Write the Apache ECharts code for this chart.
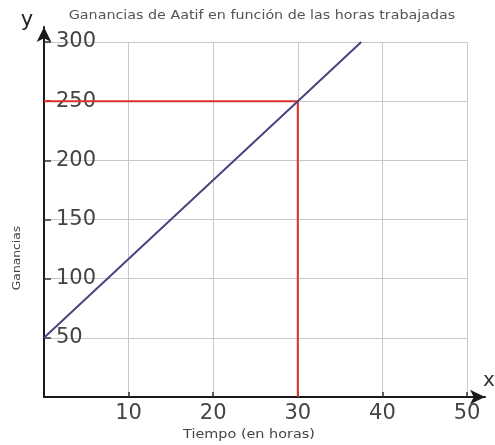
<!DOCTYPE html>
<html>
<head>
<meta charset="utf-8">
<script src="https://cdn.jsdelivr.net/npm/echarts@6/dist/echarts.min.js"></script>
<style>
  html, body { margin: 0; padding: 0; background: #fff; }
  #chart { width: 495px; height: 445px; }
</style>
</head>
<body>
<div id="chart"></div>
<script>
// Earnings line: points (hours, earnings)
const earnings = [[0, 50], [30, 250], [37.5, 300]];
// Guide lines marking 30 hours -> 250
const guide = [[0, 250], [30, 250], [30, 0]];

const xTicks = { min: 0, max: 50, step: 10 };
const yTicks = { min: 0, max: 300, step: 50 };

const titleText = 'Ganancias de Aatif en función de las horas trabajadas';
const xName = 'Tiempo (en horas)';
const yName = 'Ganancias';

const font = 'DejaVu Sans';
const chart = echarts.init(document.getElementById('chart'));

chart.setOption({
  animation: false,
  grid: [
    { left: 44, right: 28, top: 42, bottom: 48 },
    { left: 44, right: 10, top: 27, bottom: 48 }
  ],
  xAxis: [
    {
      type: 'value', gridIndex: 0,
      min: xTicks.min, max: xTicks.max, interval: xTicks.step,
      axisLine: { show: false },
      axisTick: { show: true, inside: true, length: 5, lineStyle: { color: '#333', width: 1.5 } },
      axisLabel: {
        showMinLabel: false, margin: 6,
        fontFamily: font, fontSize: 21, color: '#444'
      },
      splitLine: { show: true, lineStyle: { color: '#c8c8c8', width: 1 } }
    },
    {
      type: 'value', gridIndex: 1, min: 0, max: 1,
      axisLine: { show: true, symbol: ['none', 'arrow'], symbolSize: [11, 15],
        lineStyle: { color: '#1a1a1a', width: 2 } },
      axisTick: { show: false }, axisLabel: { show: false }, splitLine: { show: false }
    }
  ],
  yAxis: [
    {
      type: 'value', gridIndex: 0,
      min: yTicks.min, max: yTicks.max, interval: yTicks.step,
      axisLine: { show: false },
      axisTick: { show: true, inside: true, length: 7, lineStyle: { color: '#333', width: 1.5 } },
      axisLabel: {
        inside: true, showMinLabel: false, margin: 12,
        fontFamily: font, fontSize: 21, color: '#444'
      },
      splitLine: { show: true, lineStyle: { color: '#c8c8c8', width: 1 } }
    },
    {
      type: 'value', gridIndex: 1, min: 0, max: 1,
      axisLine: { show: true, symbol: ['none', 'arrow'], symbolSize: [11, 15],
        lineStyle: { color: '#1a1a1a', width: 2 } },
      axisTick: { show: false }, axisLabel: { show: false }, splitLine: { show: false }
    }
  ],
  series: [
    {
      type: 'line', xAxisIndex: 0, yAxisIndex: 0,
      data: guide, symbol: 'none',
      lineStyle: { color: '#e0302c', width: 2 }
    },
    {
      type: 'line', xAxisIndex: 0, yAxisIndex: 0,
      data: earnings, symbol: 'none',
      lineStyle: { color: '#45457f', width: 2 }
    }
  ],
  graphic: [
    {
      type: 'text', x: 262, y: 16, scaleX: 1.19,
      style: { text: titleText, fontFamily: font, fontSize: 12, fill: '#555',
        align: 'center', verticalAlign: 'middle' }
    },
    {
      type: 'text', x: 249, y: 435, scaleX: 1.2,
      style: { text: xName, fontFamily: font, fontSize: 12, fill: '#444',
        align: 'center', verticalAlign: 'middle' }
    },
    {
      type: 'text', x: 17, y: 258, rotation: Math.PI / 2, scaleX: 1.12,
      style: { text: yName, fontFamily: font, fontSize: 11, fill: '#444',
        align: 'center', verticalAlign: 'middle' }
    },
    {
      type: 'text', x: 27, y: 21,
      style: { text: 'y', fontFamily: font, fontSize: 21, fill: '#222',
        align: 'center', verticalAlign: 'middle' }
    },
    {
      type: 'text', x: 489, y: 381,
      style: { text: 'x', fontFamily: font, fontSize: 20, fill: '#333',
        align: 'center', verticalAlign: 'middle' }
    }
  ]
});
</script>
</body>
</html>
